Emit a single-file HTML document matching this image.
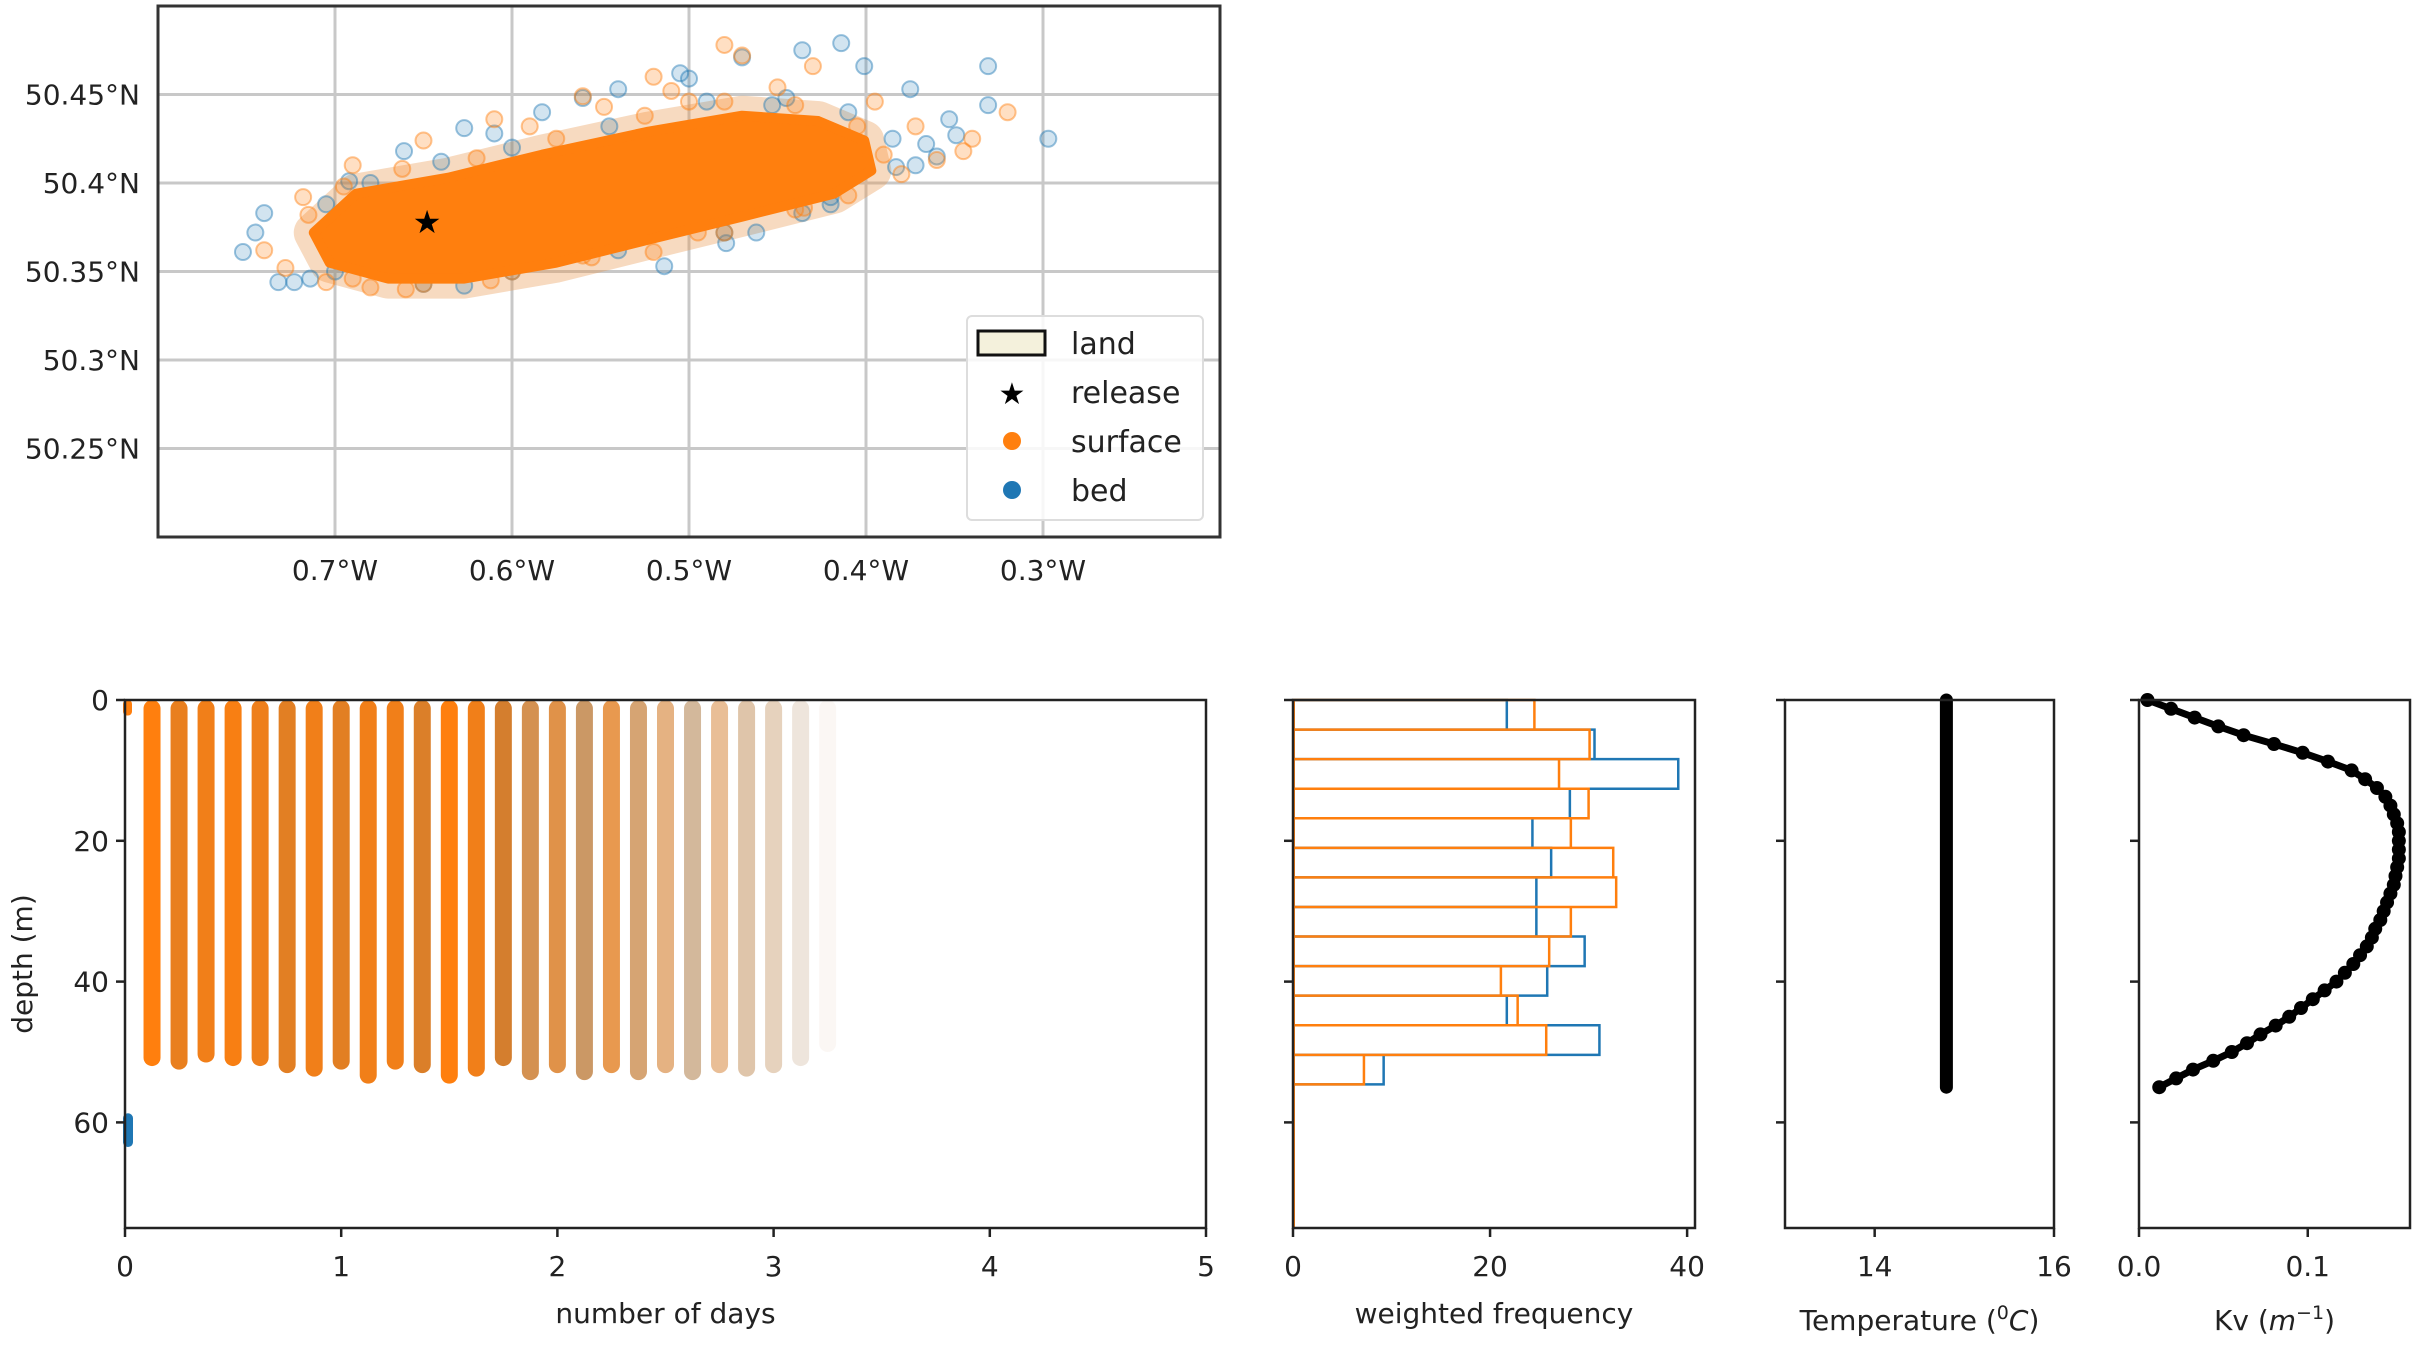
<!DOCTYPE html>
<html><head><meta charset="utf-8"><style>
html,body{margin:0;padding:0;background:#fff}
svg text{font-family:"DejaVu Sans","Liberation Sans",sans-serif;fill:#222}
</style></head><body>
<svg id="fig" width="2415" height="1343" viewBox="0 0 2415 1343" xmlns="http://www.w3.org/2000/svg">
<g id="map"></g>
<g id="days"></g>
<g id="hist"></g>
<g id="temp"></g>
<g id="kv"></g>
</svg>
<script>
// ---------- data ----------
const mapLonTicks=[-0.7,-0.6,-0.5,-0.4,-0.3];
const mapLonLabels=["0.7°W","0.6°W","0.5°W","0.4°W","0.3°W"];
const mapLatTicks=[50.25,50.3,50.35,50.4,50.45];
const mapLatLabels=["50.25°N","50.3°N","50.35°N","50.4°N","50.45°N"];
const coreLon=[-0.712,-0.688,-0.636,-0.583,-0.523,-0.470,-0.427,-0.401,-0.397,-0.418,-0.470,-0.523,-0.575,-0.627,-0.670,-0.703];
const coreLat=[50.372,50.394,50.403,50.416,50.429,50.438,50.435,50.424,50.407,50.394,50.381,50.368,50.355,50.346,50.346,50.355];
const blueLon=[-0.752,-0.745,-0.732,-0.723,-0.714,-0.627,-0.601,-0.514,-0.479,-0.436,-0.383,-0.366,-0.349,-0.375,-0.414,-0.436,-0.470,-0.505,-0.540,-0.583,-0.627,-0.661,-0.692,-0.740,-0.353,-0.331,-0.297,-0.331,-0.401,-0.453,-0.531,-0.583,-0.690,-0.655,-0.462,-0.420,-0.360,-0.610,-0.560,-0.500,-0.705,-0.680,-0.640,-0.600,-0.545,-0.490,-0.445,-0.410,-0.385,-0.372,-0.420,-0.480,-0.540,-0.600,-0.650,-0.700];
const blueLat=[50.361,50.372,50.344,50.344,50.346,50.342,50.355,50.353,50.366,50.383,50.409,50.422,50.427,50.453,50.479,50.475,50.471,50.462,50.453,50.440,50.431,50.418,50.401,50.383,50.436,50.444,50.425,50.466,50.466,50.444,50.383,50.374,50.360,50.352,50.372,50.392,50.415,50.428,50.448,50.459,50.388,50.400,50.412,50.420,50.432,50.446,50.448,50.440,50.425,50.410,50.388,50.372,50.362,50.350,50.343,50.350];
const orangeLon=[-0.740,-0.728,-0.705,-0.680,-0.650,-0.600,-0.560,-0.520,-0.480,-0.440,-0.410,-0.380,-0.360,-0.340,-0.320,-0.395,-0.450,-0.480,-0.520,-0.560,-0.610,-0.650,-0.690,-0.718,-0.470,-0.430,-0.500,-0.548,-0.345,-0.372,-0.715,-0.695,-0.662,-0.620,-0.575,-0.525,-0.480,-0.440,-0.405,-0.390,-0.435,-0.495,-0.555,-0.612,-0.660,-0.690,-0.590,-0.510];
const orangeLat=[50.362,50.352,50.344,50.341,50.343,50.350,50.359,50.361,50.372,50.385,50.393,50.405,50.413,50.425,50.440,50.446,50.454,50.478,50.460,50.449,50.436,50.424,50.410,50.392,50.472,50.466,50.446,50.443,50.418,50.432,50.382,50.398,50.408,50.414,50.425,50.438,50.446,50.444,50.432,50.416,50.386,50.372,50.358,50.345,50.340,50.346,50.432,50.452];
const releaseLon=-0.648, releaseLat=50.378;

const dayTicks=[0,1,2,3,4,5];
const depthTicks=[0,20,40,60];
const colDays=[0.125,0.25,0.375,0.5,0.625,0.75,0.875,1,1.125,1.25,1.375,1.5,1.625,1.75,1.875,2,2.125,2.25,2.375,2.5,2.625,2.75,2.875,3,3.125,3.25];
const colBottom=[52,52.5,51.5,52,52,53,53.5,52.5,54.5,52.5,53,54.5,53.5,52,54,53,54,53,54,53,54,53,53.5,53,52,50];
const colAlpha=[1,1,1,1,1,1,1,1,1,1,1,1,1,1,0.85,0.85,0.8,0.8,0.7,0.6,0.55,0.5,0.45,0.35,0.2,0.06];
const colBlueMix=[0,0.15,0.1,0.05,0.12,0.2,0.1,0.2,0.1,0.1,0.25,0,0.1,0.3,0.35,0.25,0.45,0.2,0.4,0.3,0.55,0.3,0.5,0.5,0.6,0.5];

const histBinEdges=[0,4.2,8.4,12.6,16.8,21,25.2,29.4,33.6,37.8,42,46.2,50.4,54.6];
const histSurface=[24.5,30.1,27,30,28.2,32.5,32.8,28.2,26,21.1,22.8,25.7,7.2];
const histBed=[21.7,30.6,39.1,28.1,24.3,26.2,24.7,24.7,29.6,25.8,21.7,31.1,9.2];
const histTicks=[0,20,40];

const tempTicks=[14,16];
const tempDepth=[0,5,10,15,20,25,30,35,40,45,50,55];
const tempValue=[14.8,14.8,14.8,14.8,14.8,14.8,14.8,14.8,14.8,14.8,14.8,14.8];

const kvTicks=[0.0,0.1];
const kvTickLabels=["0.0","0.1"];
const kvDepth=[0,1.25,2.5,3.75,5,6.25,7.5,8.75,10,11.25,12.5,13.75,15,16.25,17.5,18.75,20,21.25,22.5,23.75,25,26.25,27.5,28.75,30,31.25,32.5,33.75,35,36.25,37.5,38.75,40,41.25,42.5,43.75,45,46.25,47.5,48.75,50,51.25,52.5,53.75,55];
const kvValue=[0.005,0.019,0.033,0.047,0.062,0.080,0.097,0.112,0.126,0.134,0.141,0.146,0.149,0.151,0.153,0.154,0.154,0.154,0.154,0.153,0.152,0.151,0.149,0.147,0.145,0.143,0.140,0.138,0.135,0.131,0.127,0.122,0.117,0.110,0.103,0.096,0.089,0.081,0.072,0.064,0.055,0.044,0.032,0.022,0.012];

// ---------- helpers ----------
const NS="http://www.w3.org/2000/svg";
function mk(parent,tag,attrs,text){const e=document.createElementNS(NS,tag);for(const k in attrs)e.setAttribute(k,attrs[k]);if(text!==undefined)e.textContent=text;parent.appendChild(e);return e;}
function lin(d0,d1,r0,r1){return v=>r0+(v-d0)/(d1-d0)*(r1-r0);}
const ORANGE="#ff7f0e", BLUE="#1f77b4";

// ---------- map ----------
(function(){
const g=document.getElementById('map');
const L=158,R=1220,T=6,B=537;
const x=lin(-0.8,-0.2,L,R), y=lin(50.2,50.5,B,T);
mapLonTicks.forEach((v,i)=>{
  const l=mk(g,'line',{x1:x(v),x2:x(v),y1:T,y2:B,stroke:'#c8c8c8','stroke-width':3});
  
  const t=mk(g,'text',{x:x(v),y:580,'font-size':28,'text-anchor':'middle'},mapLonLabels[i]);
  
});
mapLatTicks.forEach((v,i)=>{
  const l=mk(g,'line',{x1:L,x2:R,y1:y(v),y2:y(v),stroke:'#c8c8c8','stroke-width':3});
  
  const t=mk(g,'text',{x:140,y:y(v)+10,'font-size':28,'text-anchor':'end'},mapLatLabels[i]);
  
});
const pts=coreLon.map((v,i)=>x(v)+','+y(coreLat[i])).join(' ');
const halo=mk(g,'polygon',{points:pts,fill:ORANGE,'fill-opacity':0.4,stroke:'#e8944a','stroke-opacity':0.35,'stroke-width':40,'stroke-linejoin':'round'});

blueLon.forEach((v,i)=>{const c=mk(g,'circle',{cx:x(v),cy:y(blueLat[i]),r:8,fill:BLUE,'fill-opacity':0.2,stroke:BLUE,'stroke-opacity':0.45,'stroke-width':2});
  });
orangeLon.forEach((v,i)=>{const c=mk(g,'circle',{cx:x(v),cy:y(orangeLat[i]),r:8,fill:ORANGE,'fill-opacity':0.25,stroke:ORANGE,'stroke-opacity':0.45,'stroke-width':2});
  });
const core=mk(g,'polygon',{points:pts,fill:ORANGE,stroke:ORANGE,'stroke-width':10,'stroke-linejoin':'round'});

const s=mk(g,'text',{x:x(releaseLon),y:y(releaseLat)+11,'font-size':32,'text-anchor':'middle',style:'fill:#000'},'★');

const fr=mk(g,'rect',{x:L,y:T,width:R-L,height:B-T,fill:'none',stroke:'#333','stroke-width':3});

// legend
const lg=mk(g,'g',{});
mk(lg,'rect',{x:967,y:316,width:236,height:204,rx:5,fill:'#fff','fill-opacity':0.85,stroke:'#ddd','stroke-width':2});
mk(lg,'rect',{x:978,y:331,width:67,height:24,fill:'#f4f1dc',stroke:'#111','stroke-width':3});
const labels=['land','release','surface','bed'];
labels.forEach((t,i)=>{const e=mk(lg,'text',{x:1071,y:354+i*49,'font-size':30},t);});
mk(lg,'text',{x:1012,y:404,'font-size':30,'text-anchor':'middle',style:'fill:#000'},'★');
mk(lg,'circle',{cx:1012,cy:441,r:9,fill:ORANGE});
mk(lg,'circle',{cx:1012,cy:490,r:9,fill:BLUE});
})();

// ---------- shared depth axis ----------
const DT=700, DB=1228;
const yd=lin(0,75,DT,DB);

function frame(g,L,R,name){
  const r=mk(g,'rect',{x:L,y:DT,width:R-L,height:DB-DT,fill:'none',stroke:'#222','stroke-width':2.5});
  
  depthTicks.forEach(v=>{const t=mk(g,'line',{x1:L-9,x2:L,y1:yd(v),y2:yd(v),stroke:'#222','stroke-width':2.5});
    });
}
function xtick(g,px,label){
  const t=mk(g,'line',{x1:px,x2:px,y1:DB,y2:DB+9,stroke:'#222','stroke-width':2.5});
  
  const l=mk(g,'text',{x:px,y:1276,'font-size':28,'text-anchor':'middle'},label);
  
}

// ---------- depth vs days ----------
(function(){
const g=document.getElementById('days');
const L=125,R=1206, x=lin(0,5,L,R);
const cw=17;
mk(g,'rect',{x:x(0)-2,y:yd(0),width:9,height:yd(2.2)-yd(0),fill:ORANGE,rx:4});
const b0=mk(g,'rect',{x:x(0)-2,y:yd(58.7),width:10,height:yd(63.5)-yd(58.7),fill:BLUE,rx:5});

colDays.forEach((d,i)=>{
  const m=colBlueMix[i];
  const r=Math.round(255*(1-m)+110*m), gg=Math.round(127*(1-m)+125*m), bb=Math.round(14*(1-m)+120*m);
  const c=mk(g,'rect',{x:x(d)-cw/2,y:yd(0),width:cw,height:yd(colBottom[i])-yd(0),rx:cw/2,fill:`rgb(${r},${gg},${bb})`,'fill-opacity':colAlpha[i]});
  
});
frame(g,L,R,'days-frame');
dayTicks.forEach(v=>xtick(g,x(v),String(v)));
depthTicks.forEach(v=>{const t=mk(g,'text',{x:L-16,y:yd(v)+10,'font-size':28,'text-anchor':'end'},String(v));
  });
const yl=mk(g,'text',{x:0,y:0,'font-size':28,'text-anchor':'middle',transform:`translate(32,${(DT+DB)/2}) rotate(-90)`},'depth (m)');

const xl=mk(g,'text',{x:(L+R)/2,y:1323,'font-size':28,'text-anchor':'middle'},'number of days');

})();

// ---------- histogram ----------
(function(){
const g=document.getElementById('hist');
const L=1293,R=1695, x=lin(0,40.8,L,R);
function steps(vals,color,name){
  let d=`M${x(0)},${yd(histBinEdges[0])}`;
  vals.forEach((v,i)=>{d+=` L${x(v)},${yd(histBinEdges[i])} L${x(v)},${yd(histBinEdges[i+1])} L${x(0)},${yd(histBinEdges[i+1])}`;
    if(i<vals.length-1)d+=` M${x(0)},${yd(histBinEdges[i+1])}`;});
  const p=mk(g,'path',{d:d,fill:'none',stroke:color,'stroke-width':2.5});
  
}
steps(histBed,BLUE,'bed-histogram');
steps(histSurface,ORANGE,'surface-histogram');
mk(g,'line',{x1:x(0)+1,x2:x(0)+1,y1:DT,y2:DB,stroke:ORANGE,'stroke-width':2});
frame(g,L,R,'hist-frame');
histTicks.forEach(v=>xtick(g,x(v),String(v)));
const xl=mk(g,'text',{x:(L+R)/2,y:1323,'font-size':28,'text-anchor':'middle'},'weighted frequency');

})();

// ---------- temperature ----------
(function(){
const g=document.getElementById('temp');
const L=1785,R=2054, x=lin(13,16,L,R);
const pts=tempDepth.map((d,i)=>x(tempValue[i])+','+yd(d)).join(' ');
const pl=mk(g,'polyline',{points:pts,fill:'none',stroke:'#000','stroke-width':13,'stroke-linecap':'round'});

frame(g,L,R,'temp-frame');
tempTicks.forEach(v=>xtick(g,x(v),String(v)));
const xl=mk(g,'text',{x:(L+R)/2,y:1330,'font-size':28,'text-anchor':'middle'});

xl.innerHTML='Temperature (<tspan baseline-shift="super" font-size="19">0</tspan><tspan font-style="italic">C</tspan>)';
})();

// ---------- Kv ----------
(function(){
const g=document.getElementById('kv');
const L=2139,R=2410, x=lin(0,0.1606,L,R);
const pts=kvDepth.map((d,i)=>x(kvValue[i])+','+yd(d)).join(' ');
const pl=mk(g,'polyline',{points:pts,fill:'none',stroke:'#000','stroke-width':7,'stroke-linejoin':'round'});

kvDepth.forEach((d,i)=>{const c=mk(g,'circle',{cx:x(kvValue[i]),cy:yd(d),r:7,fill:'#000'});
  });
frame(g,L,R,'kv-frame');
kvTicks.forEach((v,i)=>xtick(g,x(v),kvTickLabels[i]));
const xl=mk(g,'text',{x:(L+R)/2,y:1330,'font-size':28,'text-anchor':'middle'});

xl.innerHTML='Kv (<tspan font-style="italic">m</tspan><tspan baseline-shift="super" font-size="19">−1</tspan>)';
})();
</script>
</body></html>
